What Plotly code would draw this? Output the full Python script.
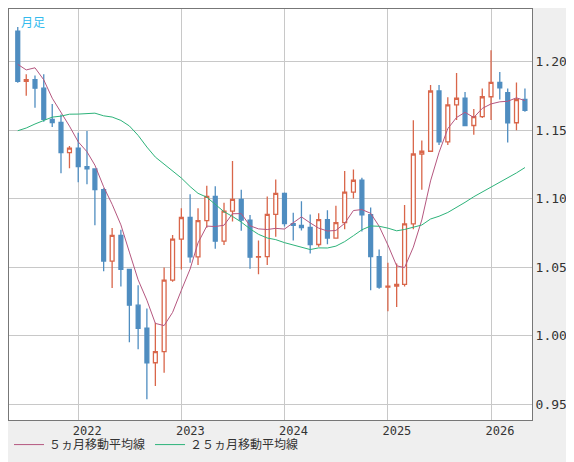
import pandas as pd
import plotly.graph_objects as go

# 月足 OHLC (2021-06 〜 2026-05)
months = pd.date_range("2021-06-01", "2026-05-01", freq="MS")
opens = [1.2225, 1.1858, 1.1870, 1.1808, 1.1580, 1.1557, 1.1337,
         1.1370, 1.1235, 1.1218, 1.1067, 1.0545, 1.0733, 1.0484, 1.0223, 1.0054, 0.9802, 0.9884, 1.0405,
         1.0705, 1.0863, 1.0576, 1.0840, 1.1017, 1.0690, 1.0910, 1.0996, 1.0844, 1.0573, 1.0577, 1.0886,
         1.1039, 1.0818, 1.0805, 1.0790, 1.0666, 1.0848, 1.0713, 1.0826, 1.1048, 1.1135, 1.0883, 1.0577,
         1.0354, 1.0362, 1.0375, 1.0816, 1.1327, 1.1347, 1.1787, 1.1415, 1.1685, 1.1734, 1.1535, 1.1600,
         1.1745, 1.1850, 1.1775, 1.1555, 1.1725]
highs = [1.2254, 1.1909, 1.1900, 1.1909, 1.1692, 1.1616, 1.1386,
         1.1482, 1.1495, 1.1184, 1.1076, 1.0787, 1.0773, 1.0486, 1.0368, 1.0198, 1.0094, 1.0497, 1.0736,
         1.0930, 1.1033, 1.0930, 1.1095, 1.1092, 1.0970, 1.1276, 1.1065, 1.0882, 1.0695, 1.1017, 1.1140,
         1.1046, 1.0898, 1.0981, 1.0885, 1.0895, 1.0916, 1.0948, 1.1202, 1.1214, 1.1153, 1.0937, 1.0630,
         1.0533, 1.0528, 1.0955, 1.1573, 1.1425, 1.1830, 1.1830, 1.1742, 1.1919, 1.1780, 1.1655, 1.1805,
         1.2085, 1.1925, 1.1805, 1.1850, 1.1805]
lows = [1.1847, 1.1752, 1.1664, 1.1563, 1.1524, 1.1186, 1.1222,
        1.1121, 1.1106, 1.0806, 1.0471, 1.0349, 1.0359, 0.9952, 0.9901, 0.9536, 0.9632, 0.9730, 1.0393,
        1.0483, 1.0533, 1.0516, 1.0788, 1.0635, 1.0663, 1.0834, 1.0766, 1.0488, 1.0448, 1.0517, 1.0723,
        1.0797, 1.0695, 1.0768, 1.0601, 1.0650, 1.0668, 1.0710, 1.0778, 1.1002, 1.0761, 1.0332, 1.0343,
        1.0178, 1.0210, 1.0359, 1.0778, 1.1065, 1.1347, 1.1392, 1.1392, 1.1575, 1.1542, 1.1468, 1.1590,
        1.1575, 1.1725, 1.1410, 1.1500, 1.1635]
closes = [1.1858, 1.1870, 1.1808, 1.1580, 1.1557, 1.1337, 1.1370,
          1.1235, 1.1218, 1.1067, 1.0545, 1.0733, 1.0484, 1.0223, 1.0054, 0.9802, 0.9884, 1.0405, 1.0705,
          1.0863, 1.0576, 1.0840, 1.1017, 1.0690, 1.0910, 1.0996, 1.0844, 1.0573, 1.0577, 1.0886, 1.1039,
          1.0818, 1.0805, 1.0790, 1.0666, 1.0848, 1.0713, 1.0826, 1.1048, 1.1135, 1.0883, 1.0577, 1.0354,
          1.0362, 1.0375, 1.0816, 1.1327, 1.1347, 1.1787, 1.1415, 1.1685, 1.1734, 1.1535, 1.1600, 1.1745,
          1.1850, 1.1810, 1.1555, 1.1725, 1.1645]

# 移動平均用の過去終値 (2019-06 〜 2021-05)
prior_closes = [1.1370, 1.1076, 1.0988, 1.0899, 1.1152, 1.1018, 1.1213, 1.1093, 1.1026, 1.1029,
                1.0955, 1.1100, 1.1234, 1.1777, 1.1935, 1.1721, 1.1646, 1.1927, 1.2216, 1.2136,
                1.2075, 1.1730, 1.2020, 1.2227]

all_closes = pd.Series(prior_closes + closes)
ma5 = all_closes.rolling(5).mean().iloc[len(prior_closes):].values
ma25 = all_closes.rolling(25).mean().iloc[len(prior_closes):].values

fig = go.Figure()
fig.add_trace(go.Candlestick(
    x=months, open=opens, high=highs, low=lows, close=closes,
    increasing=dict(line=dict(color="#d9664a", width=1.3), fillcolor="white"),
    decreasing=dict(line=dict(color="#4f8dc0", width=1.3), fillcolor="#4f8dc0"),
    showlegend=False, hoverinfo="x+y"))
fig.add_trace(go.Scatter(x=months, y=ma5, mode="lines", name="５ヵ月移動平均線",
                         line=dict(color="#b5577f", width=1)))
fig.add_trace(go.Scatter(x=months, y=ma25, mode="lines", name="２５ヵ月移動平均線",
                         line=dict(color="#2db37a", width=1)))

fig.add_annotation(text="月足", xref="paper", yref="paper", x=0.02, y=0.995,
                   xanchor="left", yanchor="top", showarrow=False,
                   font=dict(color="#33bbee", size=12))

fig.update_layout(
    width=574, height=462,
    margin=dict(l=1, r=50, t=1, b=50, autoexpand=False),
    paper_bgcolor="#efefef", plot_bgcolor="white",
    font=dict(family="Noto Sans CJK JP", size=12, color="#333"),
    legend=dict(orientation="h", yref="container", y=0.055, x=0.0, yanchor="middle",
                font=dict(size=12, color="#333"), bgcolor="rgba(0,0,0,0)"),
    xaxis=dict(rangeslider=dict(visible=False), type="date",
               range=["2021-05-01", "2026-05-26"],
               tick0="2022-01-01", dtick="M12", tickformat="%Y",
               ticklabelshift=9, ticks="", showgrid=True, gridcolor="#c8c8c8",
               showline=True, linecolor="#777", mirror=True,
               tickfont=dict(family="DejaVu Sans Mono", size=12, color="#333")),
    yaxis=dict(side="right", range=[0.9384, 1.2386], dtick=0.05, tickformat=".2f",
               showgrid=True, gridcolor="#c8c8c8", showline=True, linecolor="#777",
               mirror=True, ticks="", zeroline=False,
               tickfont=dict(family="DejaVu Sans Mono", size=13, color="#333")),
)

fig.write_html("out.html")
